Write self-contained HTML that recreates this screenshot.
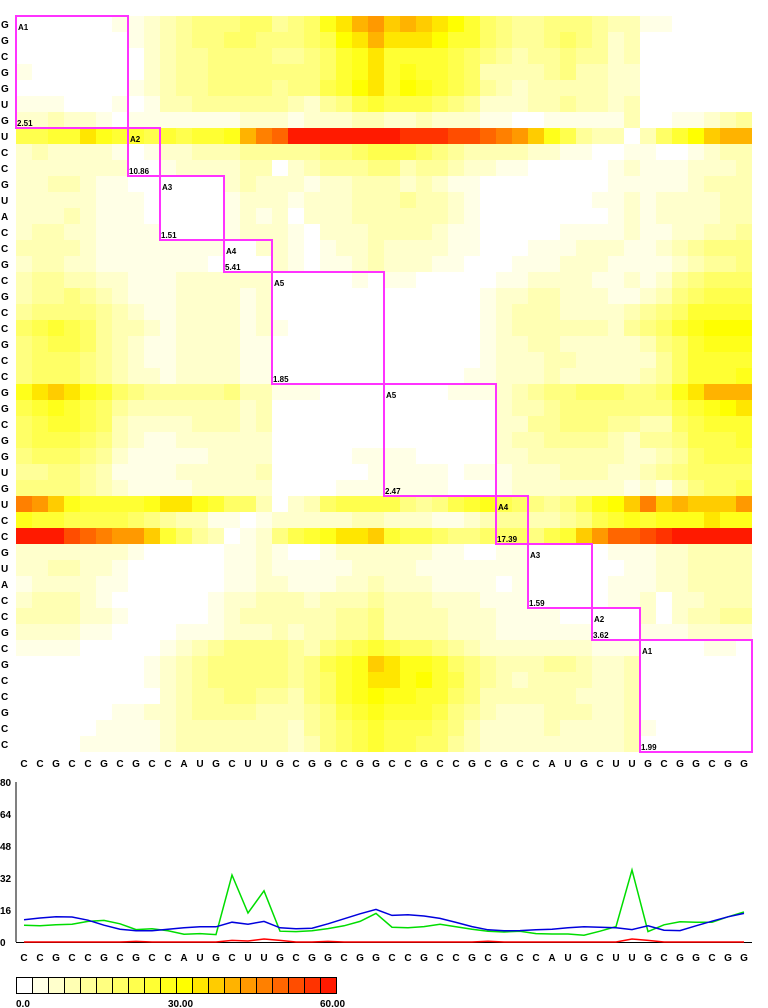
<!DOCTYPE html>
<html><head><meta charset="utf-8"><style>
html,body{margin:0;padding:0;background:#fff;}
svg{display:block;font-family:"Liberation Sans",Arial,sans-serif;}
.lb{font-weight:bold;font-size:10px;fill:#000;}
.bx{font-weight:bold;font-size:8px;fill:#000;}
</style></head><body>
<svg id="chart" width="768" height="1008" viewBox="0 0 768 1008" xmlns="http://www.w3.org/2000/svg">
<g id="heat"></g>
<g id="boxes"></g>
<g id="rowlabels"></g>
<g id="collabels"></g>
<g id="lines"></g>
<g id="legend"></g>
</svg>
<script>
const rowSeq = "GGCGGUGUCCGUACCGCGCCGCCGGCGGUGUCCGUACCGCGCCGCC".split("");
const colSeq = "CCGCCGCGCCAUGCUUGCGGCGGCCGCCGCGCCAUGCUUGCGGCGG".split("");
// heat levels per row (0-9,a-j => 0..19); value = level*3
const heatRows = [
"00000011234555664569bdecdcba865445554331100000",
"00000001234556655567abdbbba8865445654230000000",
"00000000234455554456 89b8888765434454423000000 0",
"100000002344555555568 9b89887633334533220000000",
"000000012344555545578ab8a9876432333332 20000000",
"111000101334444443245787776542223343323 0000000",
"2232210111111122212223322322211001111130011234",
"7788b988787889dfgjjjjjjjiiihhgfec974330368acdd",
"2322221012233344444556777654333322110011001233",
"2222222001222233023444553443221100000121112223",
"2233211000000232221223332321100000000111112333",
"2222211100000122212223334332100000001121222233",
"2223211100000121202223333332100000000121222233",
"2332211110000122210222333321100000111121122334",
"3333211111111002210122322221100011122211234555",
"2332211111110000210112322211000111222111123445",
"3443322111222222000001011000001122221121245666",
"344543211122221200000000000001223322211235 6777",
"455554321122221200000000000001233322223456 8888",
"67876433212222121000000000000123333332456 89aaa",
"5677643211222211000000000000012233222223568999",
"5666543211222211000000000000012223322222468888",
"5666543221222211000000000000112223222223468889",
"9bcb986544444533111000000001112345566655 69bddd",
"78987643333333230000000000000023345555555789ab",
"67887632222333230000000000000022445554433678 88",
"67776532112222220000000000000023344443244577 78",
"56665421111122220000011110000022333333223467 77",
"44554311112222230000001111101112223332234566 66",
"55554321111222220000111111100012222222121356 67",
"fec986889bb9866302367777".replace("986","988")+"5457897654579acfcdcccef",
"9887777654331101222223322211234433457898999b99",
"jjjhgfeec86430125789bbc877655666578cegghijjjjj",
"2222222100000112100122222211001100000111223333",
"2233221000000112111112222111111100000011223333",
"1222211000000112211122322211110100000111223333",
"2333210000001223332333433322211100000112022333",
"3333221000001233333344533332221111000002023344",
"2222110000111222323344533332221111110001112222",
"1111000001234555543567876654322222221110000110",
"000000001234555554578 9cb998654333443223000000 0",
"000000001234555554568 9bb9a87543233332230000000",
"0000000002344554435689a9988653333332223000000 0",
"00000011223444433345789888754322233322300000 00",
"000001111233333332456787776532222322223100000 0",
"0000111112333333323567877664322222222230000000"
].map(s=>s.replace(/ /g,""));
const blueVals = [11.1,12,12.6,12.5,10.9,8.4,6.4,5.6,5.6,6.4,7.1,7.6,7.6,9.9,8.9,10.3,7.1,6.6,6.9,9.1,11.6,14.1,16.3,13.3,13.6,13,11.8,9.8,7.7,6.1,5.6,5.7,6.1,6.4,7.1,7.6,7.4,7.1,6.2,8.1,5.9,5.7,8.1,10.4,12.6,14.3];
const greenVals = [8.4,8.1,8.6,8.9,10.3,10.8,9.1,6.2,6.6,5.6,3.9,4.2,3.7,33.5,14.5,25.6,5.4,5.2,5.6,6.7,8.1,10.3,14.3,7.4,7.1,7.7,8.9,7.6,6.4,5.4,5,5.4,4.2,4,4,3.4,5.4,7.7,36,5.2,8.6,10.1,9.9,9.9,12.6,15];
const redVals = [0,0,0,0,0,0,0,0.3,0,0,0,0,0,0.8,0.5,1.5,0.8,0,0,0.3,0,0,0,0,0,0,0,0,0,0.4,0,0,0,0,0,0,0,0,1.5,0.8,0,0,0,0,0,0];
const yTicks = [0,16,32,48,64,80];
const legendLabels = ["0.0","30.00","60.00"];
const legendLabelVals = [0,30,60];
const boxNames = ["A1","A2","A3","A4","A5","A5","A4","A3","A2","A1"];
const boxScores = ["2.51","10.86","1.51","5.41","1.85","2.47","17.39","1.59","3.62","1.99"];
const boxRowStart = [0,7,10,14,16,23,30,33,37,39];
const boxRowEnd   = [6,9,13,15,22,29,32,36,38,45];
const boxColStart = [0,7,9,13,16,23,30,32,36,39];
const boxColEnd   = [6,8,12,15,22,29,31,35,38,45];

const NS="http://www.w3.org/2000/svg";
const palette=["#ffffff","#ffffe6","#ffffcc","#ffffb3","#ffff99","#ffff80","#ffff66","#ffff4d","#ffff33","#ffff1a","#ffff00","#ffe600","#ffcc00","#ffb300","#ff9900","#ff8000","#ff6600","#ff4d00","#ff3300","#ff1a00"];
function colorFor(v){return palette[Math.max(0,Math.min(19,Math.floor(v/3)))];}
const X0=16,Y0=16,C=16;
const cx=i=>X0+i*C, ry=r=>Y0+r*C;
function mk(tag,attrs,parent){const e=document.createElementNS(NS,tag);for(const k in attrs)e.setAttribute(k,attrs[k]);parent.appendChild(e);return e;}

const heat=document.getElementById('heat');
heatRows.forEach((s,r)=>{
  for(let c=0;c<46;c++){
    const lv=parseInt(s[c]||"0",20);
    const v=lv*3;
    if(lv===0)continue;
    const e=mk('rect',{x:cx(c),y:ry(r),width:C,height:C,fill:colorFor(v)},heat);
    
    
  }
});
const boxes=document.getElementById('boxes');
boxNames.forEach((n,i)=>{
  const x=cx(boxColStart[i]),y=ry(boxRowStart[i]);
  const w=(boxColEnd[i]-boxColStart[i]+1)*C,h=(boxRowEnd[i]-boxRowStart[i]+1)*C;
  const b=mk('rect',{x:x,y:y,width:w,height:h,fill:"none",stroke:"#ff33ff","stroke-width":2},boxes);
  
  
  const t=mk('text',{x:x+2,y:y+14,class:"bx"},boxes);t.textContent=n;
  
  
  const s=mk('text',{x:x+1,y:y+h-2,class:"bx"},boxes);s.textContent=boxScores[i];
  
  
});
const rl=document.getElementById('rowlabels');
rowSeq.forEach((ch,r)=>{
  const t=mk('text',{x:1,y:ry(r)+12,class:"lb"},rl);t.textContent=ch;
  
  
});
const cl=document.getElementById('collabels');
colSeq.forEach((ch,c)=>{
  const t=mk('text',{x:cx(c)+8,y:767,class:"lb","text-anchor":"middle"},cl);t.textContent=ch;
  
  
  const t2=mk('text',{x:cx(c)+8,y:961,class:"lb","text-anchor":"middle"},cl);t2.textContent=ch;
  
  
});
// line chart
const lines=document.getElementById('lines');
const yBase=942, yScale=2;
const ly=v=>yBase-v*yScale, lx=i=>cx(i)+8;
const ax=mk('line',{x1:16,y1:782,x2:16,y2:942,stroke:"#000","stroke-width":1},lines);


const bx=mk('line',{x1:16,y1:942.5,x2:752,y2:942.5,stroke:"#000","stroke-width":1},lines);


yTicks.forEach(v=>{
  const t=mk('text',{x:0,y:ly(v)+4,class:"lb"},lines);t.textContent=v;
  
  
});
[[greenVals,"#00dd00","green-line"],[blueVals,"#0000dd","blue-line"],[redVals,"#ff0000","red-line"]].forEach(([arr,col,name])=>{
  const p=mk('polyline',{points:arr.map((v,i)=>lx(i)+","+ly(v)).join(" "),fill:"none",stroke:col,"stroke-width":1.5},lines);
  
  
});
// legend
const lg=document.getElementById('legend');
for(let k=0;k<20;k++){
  const r=mk('rect',{x:16+k*16+0.5,y:977.5,width:16,height:16,fill:palette[k],stroke:"#000","stroke-width":1},lg);
  
  
}
legendLabels.forEach((l,i)=>{
  const t=mk('text',{x:16+legendLabelVals[i]/60*304+(i===0?0:0),y:1007,class:"lb"},lg);t.textContent=l;
  
  
});
</script>
</body></html>
